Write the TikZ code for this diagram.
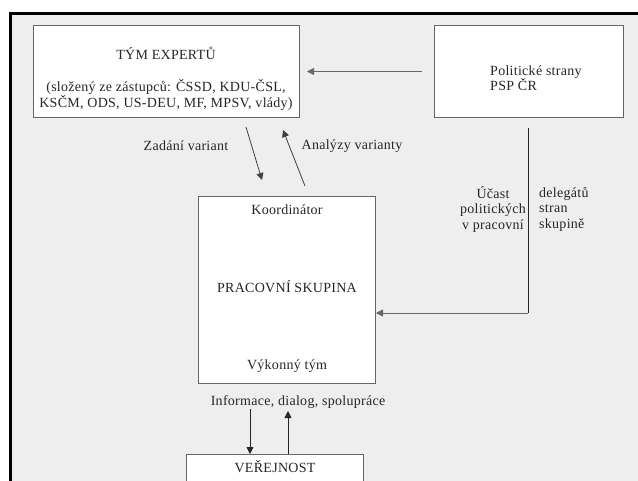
\documentclass[tikz,border=0pt]{standalone}
\usepackage{fontspec}
\setmainfont[LetterSpace=2]{Liberation Serif}
\usetikzlibrary{arrows.meta}
\definecolor{bg}{HTML}{EEEEEE}
\definecolor{boxline}{HTML}{666666}
\begin{document}
\begin{tikzpicture}[x=1pt,y=-1pt,
  font=\fontsize{14}{15.5}\selectfont,
  box/.style={draw=boxline, fill=white, line width=1pt, anchor=north west, inner sep=0pt},
  arr/.style={-{Triangle[length=7pt,width=7pt]}, line width=0.8pt},
  txt/.style={inner sep=0pt, text=black!85}]
\useasboundingbox (0,0) rectangle (638,480);
\clip (0,0) rectangle (638,480);
\fill[white] (0,0) rectangle (638,480);
\draw[fill=bg, line width=3pt] (10,13) rectangle (700,560);

% boxes
\node[box, minimum width=266pt, minimum height=92pt] (tym) at (33,25) {};
\node[box, minimum width=189pt, minimum height=92pt] (pol) at (434,25) {};
\node[box, minimum width=177pt, minimum height=187pt] (prac) at (198,196) {};
\node[box, minimum width=177pt, minimum height=60pt] (ver) at (186,454) {};

% texts
\node[txt] (tymt) at (166,53) {TÝM EXPERTŮ};
\node[txt, align=center] (tyms) at (166,95) {(složený ze zástupců: ČSSD, KDU-ČSL,\\KSČM, ODS, US-DEU, MF, MPSV, vlády)};
\node[txt, anchor=west, align=left] (polt) at (490,78) {Politické strany\\PSP ČR};
\node[txt] (koord) at (287,210) {Koordinátor};
\node[txt] (pract) at (287,287) {PRACOVNÍ SKUPINA};
\node[txt] (vyk) at (287,366) {Výkonný tým};
\node[txt] (vert) at (275,467) {VEŘEJNOST};

\node[txt] (zad) at (186,146) {Zadání variant};
\node[txt] (anal) at (352,146) {Analýzy varianty};
\node[txt] (info) at (298,402) {Informace, dialog, spolupráce};
\node[txt, align=center] (ucl) at (493,209) {Účast\\politických\\v pracovní};
\node[txt, anchor=west, align=left] (ucr) at (539,209) {delegátů\\stran\\skupině};

% connectors
\coordinate (z1) at (246,127);
\coordinate (z2) at (262,180);
\coordinate (a1) at (305,186);
\coordinate (a2) at (283,130);
\coordinate (u1) at (528,128);
\coordinate (u2) at (528,313);
\coordinate (i1) at (250,409);
\coordinate (i2) at (288,411);

\draw[arr, draw=black!60] (pol.west) ++(-12,0) -- ([xshift=7pt]tym.east);
\draw[arr, draw=black!75] (z1) -- (z2);
\draw[arr, draw=black!75] (a1) -- (a2);
\draw[line width=1pt, black!85] (u1) -- (u2);
\draw[arr, draw=black!60] (u2) -- (prac.east |- u2);
\draw[arr, draw=black!85] (i1) -- (ver.north -| i1);
\draw[arr, draw=black!85] (ver.north -| i2) -- (i2);
\end{tikzpicture}
\end{document}
